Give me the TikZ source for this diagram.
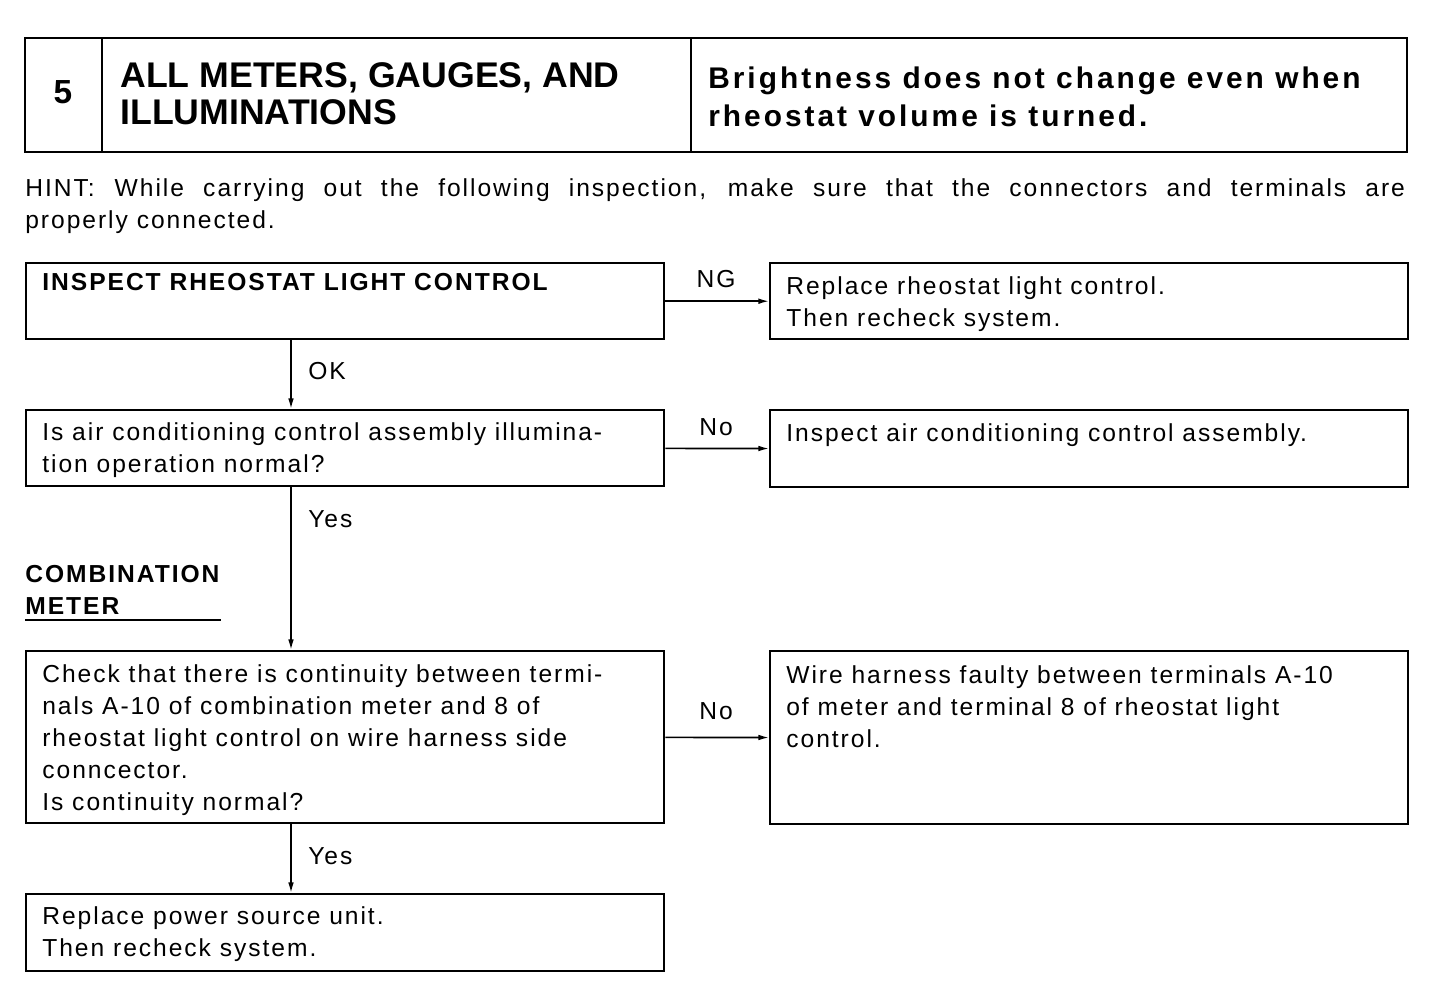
\documentclass[tikz,border=0pt]{standalone}
\usepackage{fontspec}
\setmainfont{Liberation Sans}[LetterSpace=8]
\newfontfamily\headfont{Liberation Sans}
\newfontfamily\titlefont{Liberation Sans}[LetterSpace=10]
\usetikzlibrary{arrows.meta,positioning}
\newcommand{\bodysize}{\fontsize{14}{18.2}\selectfont}

\begin{document}
\begin{tikzpicture}[x=0.02cm,y=-0.02cm,font=\bodysize,
  box/.style={draw,line width=1.4pt,anchor=north west,minimum width=12.76cm,inner sep=0pt},
  txt/.style={anchor=north west,inner sep=0pt,align=left},
  lbl/.style={anchor=base,inner sep=0pt},
  link/.style={line width=0.9pt,-{Latex[length=6pt,width=3.2pt]}}]
  \useasboundingbox (0,0) rectangle (1440,994);
  % title block
  \draw[line width=1.4pt] (25,38) rectangle (1407,152);
  \draw[line width=1.4pt] (102,38) -- (102,152) (691,38) -- (691,152);
  \node[lbl,font=\headfont\bfseries\fontsize{19}{21}\selectfont] (num) at (63,103) {5};
  \node[txt,font=\headfont\bfseries\fontsize{20.3}{21.2}\selectfont] (sect) at (120,62)
    {ALL METERS, GAUGES, AND\\ILLUMINATIONS};
  \node[txt,font=\titlefont\bfseries\fontsize{17}{21.6}\selectfont] (symptom) at (708,67)
    {Brightness does not change even when\\rheostat volume is turned.};
  % hint
  \node[txt,text width=27.6cm,align=justify] (hint) at (25,178)
    {HINT:\hspace{0.4cm}While carrying out the following inspection, make sure that the connectors and terminals are\linebreak properly connected.};
  % boxes
  \node[box,minimum height=1.52cm] (inspect) at (25,262) {};
  \node[box,minimum height=1.52cm] (replrheo) at (769,262) {};
  \node[box,minimum height=1.52cm] (illum) at (25,409) {};
  \node[box,minimum height=1.54cm] (inspac) at (769,409) {};
  \node[box,minimum height=3.44cm] (cont) at (25,650) {};
  \node[box,minimum height=3.46cm] (harness) at (769,650) {};
  \node[box,minimum height=1.54cm] (replpsu) at (25,893) {};
  % box texts
  \node[txt,font=\bodysize\bfseries] (inspect-t) at (42,273) {INSPECT RHEOSTAT LIGHT CONTROL};
  \node[txt] (replrheo-t) at (786,276) {Replace rheostat light control.\\Then recheck system.};
  \node[txt] (illum-t) at (42,422) {Is air conditioning control assembly illumina-\\tion operation normal?};
  \node[txt] (inspac-t) at (786,423) {Inspect air conditioning control assembly.};
  \node[txt] (cont-t) at (42,664) {Check that there is continuity between termi-\\nals A-10 of combination meter and 8 of\\rheostat light control on wire harness side\\conncector.\\Is continuity normal?};
  \node[txt] (harness-t) at (786,665) {Wire harness faulty between terminals A-10\\of meter and terminal 8 of rheostat light\\control.};
  \node[txt] (replpsu-t) at (42,906) {Replace power source unit.\\Then recheck system.};
  % part label
  \node[txt,font=\bodysize\bfseries] (meter) at (25,565) {COMBINATION\\METER};
  \draw[line width=0.9pt] (25,620) -- (221,620);
  % connectors
  \coordinate (spine) at (291,0);
  \draw[link] (inspect) -- (replrheo);
  \draw[link] (illum) -- (inspac);
  \draw[link] (cont) -- (harness);
  \draw[link] (inspect.south -| spine) -- (illum.north -| spine);
  \draw[link] (illum.south -| spine) -- (cont.north -| spine);
  \draw[link] (cont.south -| spine) -- (replpsu.north -| spine);
  % branch labels
  \node[lbl] (ng) at (716,287) {NG};
  \node[lbl] (no1) at (716,435) {No};
  \node[lbl] (no2) at (716,719) {No};
  \node[lbl,anchor=base west] (ok) at (308,379) {OK};
  \node[lbl,anchor=base west] (yes1) at (308,527) {Yes};
  \node[lbl,anchor=base west] (yes2) at (308,864) {Yes};
\end{tikzpicture}
\end{document}
